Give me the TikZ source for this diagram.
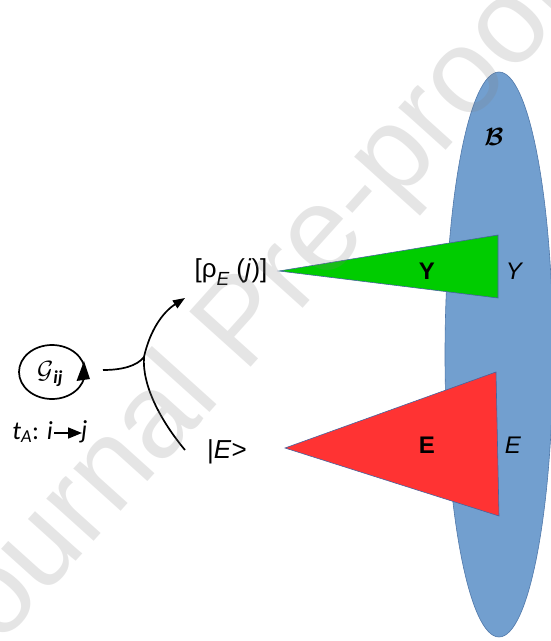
\documentclass[tikz,border=0pt]{standalone}
\usepackage{fontspec}
\usepackage{amsmath}
\setmainfont{Liberation Sans}
\newfontfamily\calib{Carlito}
\usetikzlibrary{arrows.meta}
\definecolor{ellblue}{RGB}{114,159,207}
\definecolor{elledge}{RGB}{80,120,170}
\definecolor{trigreen}{RGB}{0,204,0}
\definecolor{trired}{RGB}{255,51,51}
\definecolor{triedge}{RGB}{70,100,160}
\begin{document}
\begin{tikzpicture}[x=1pt,y=-1pt,
  conn/.style={line width=1.7pt},
  tri/.style={draw=triedge, line width=0.6pt},
  lbl/.style={inner sep=0pt, font=\fontsize{26}{28}\selectfont},
  tag/.style={inner sep=0pt, font=\fontsize{24}{26}\selectfont}]
\useasboundingbox (0,0) rectangle (551,641);
\fill[white] (0,0) rectangle (551,641);
% blue ellipse
\draw[fill=ellblue, draw=elledge, line width=0.6pt] (499,354.5) ellipse [x radius=54, y radius=282.5];
% triangles
\draw[tri, fill=trigreen] (279,271) -- (498,235) -- (498,298) -- cycle;
\draw[tri, fill=trired] (285,448) -- (496,372) -- (499,516) -- cycle;
% labels
\node[tag, font=\bfseries\fontsize{24}{26}\selectfont] (Yb) at (427,271) {Y};
\node[tag, font=\itshape\fontsize{24}{26}\selectfont] (Yi) at (514,271) {Y};
\node[tag, font=\bfseries\fontsize{24}{26}\selectfont] (Eb) at (427,445) {E};
\node[tag, font=\itshape\fontsize{24}{26}\selectfont] (Ei) at (513,445) {E};
\node[tag, font=\fontsize{28}{30}\selectfont] (B) at (494,137) {$\boldsymbol{\mathcal{B}}$};
\node[lbl] (rho) at (231,272) {[ρ\raisebox{-0.6ex}{\fontsize{19}{19}\selectfont\itshape E} (\textit{j})]};
\node[lbl] (ket) at (227,452) {|\textit{E}>};
% G ellipse with arrowhead
\draw[line width=1.7pt] (52,372) ellipse [x radius=33, y radius=27];
\node[inner sep=0pt, font=\fontsize{26}{28}\selectfont] (G) at (50,374) {$\mathcal{G}$\textsubscript{\calib\itshape\bfseries ij}};
\fill (84,361) -- (76.5,381) -- (90,379) -- cycle;
% t_A : i -> j
\node[inner sep=0pt, font=\calib\itshape\fontsize{26}{28}\selectfont, anchor=east] (tA) at (53,432) {t\textsubscript{A}\upshape: \itshape i};
\node[inner sep=0pt, font=\calib\itshape\fontsize{26}{28}\selectfont, anchor=west] (tj) at (81,432) {j};
\draw[line width=1.7pt, -{Triangle[length=14pt,width=11pt]}] (tA.east) ++(1,1) -- ++(28,0);
% connectors
\coordinate (s) at (103,370);
\coordinate (jn) at (144,357);
\coordinate (tip) at (185,298);
\coordinate (bot) at (185,450);
\draw[conn] (s) .. controls (122,370) and (137,366) .. (jn);
\draw[conn, -{Triangle[length=12pt,width=9pt]}] (bot) .. controls (160,420) and (142,385) .. (jn) .. controls (150,330) and (163,312) .. (tip);
% watermark
\node[font=\fontsize{120}{120}\selectfont, text=gray, opacity=0.2, rotate=48] (wm) at (246,326) {Journal Pre-proof};
\end{tikzpicture}
\end{document}
